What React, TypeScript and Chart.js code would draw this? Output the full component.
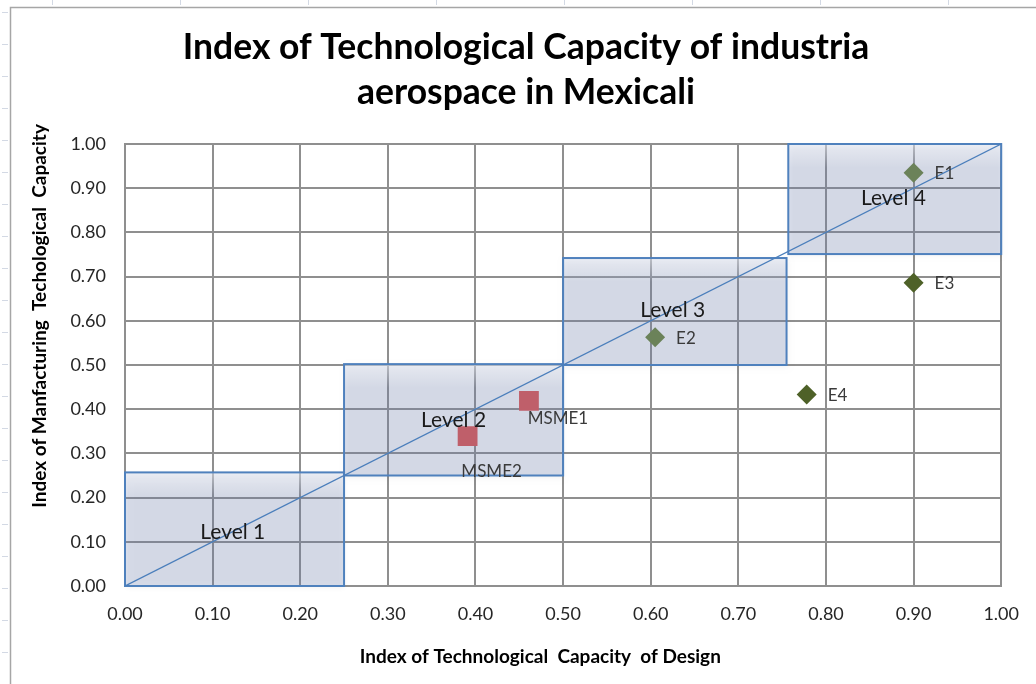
import { useEffect, useRef } from "react";
import { Chart, registerables } from "chart.js";

Chart.register(...registerables);

const FONT = "Lato, 'Open Sans', sans-serif";

const TITLE_LINES = ["Index of Technological Capacity of industria", "aerospace in Mexicali"];
const X_TITLE = "Index of Technological  Capacity  of Design";
const Y_TITLE = "Index of Manfacturing  Techological  Capacity";

const AXIS_MIN = 0;
const AXIS_MAX = 1;
const AXIS_STEP = 0.1;

const DIAG_X = [0, 1];
const DIAG_Y = [0, 1];

const LARGE_NAMES = ["E1", "E2", "E3", "E4"];
const LARGE_X = [0.9, 0.605, 0.9, 0.778];
const LARGE_Y = [0.935, 0.563, 0.686, 0.433];

const MSME_NAMES = ["MSME1", "MSME2"];
const MSME_X = [0.461, 0.391];
const MSME_Y = [0.419, 0.339];

const LEVEL_NAMES = ["Level 1", "Level 2", "Level 3", "Level 4"];
const LEVEL_X0 = [0, 0.25, 0.5, 0.757];
const LEVEL_X1 = [0.25, 0.5, 0.755, 1.0];
const LEVEL_Y0 = [0, 0.25, 0.5, 0.751];
const LEVEL_Y1 = [0.257, 0.502, 0.742, 1.0];
const LEVEL_LABEL_X = [0.123, 0.375, 0.625, 0.877];
const LEVEL_LABEL_Y = [0.122, 0.376, 0.624, 0.878];

// label offsets (pixels) for point labels
const LARGE_LABEL_OFFSET = [21, 1];
const MSME_LABEL_OFFSETS = [
  [29, 18],
  [24, 35],
];

const inLevel = (x: number, y: number) =>
  LEVEL_NAMES.some((_, i) => x >= LEVEL_X0[i] && x <= LEVEL_X1[i] && y >= LEVEL_Y0[i] && y <= LEVEL_Y1[i]);

const framePlugin = {
  id: "frame",
  beforeDraw(chart: any) {
    const { ctx, width, height } = chart;
    ctx.save();
    ctx.fillStyle = "#ffffff";
    ctx.fillRect(0, 0, width, height);
    ctx.strokeStyle = "#d3d9e4";
    ctx.lineWidth = 1;
    for (let y = 12; y < height; y += 32) {
      ctx.beginPath();
      ctx.moveTo(2, y + 0.5);
      ctx.lineTo(8, y + 0.5);
      ctx.stroke();
    }
    for (let x = 52; x < width; x += 128) {
      ctx.beginPath();
      ctx.moveTo(x + 0.5, 0);
      ctx.lineTo(x + 0.5, 5);
      ctx.stroke();
    }
    ctx.strokeStyle = "#a6a6a6";
    ctx.lineWidth = 1.5;
    ctx.strokeRect(10.5, 7.5, width + 20, height + 20);
    ctx.restore();
  },
};

const levelsPlugin = {
  id: "levels",
  beforeDatasetsDraw(chart: any) {
    const { ctx, scales } = chart;
    const xs = scales.x;
    const ys = scales.y;
    ctx.save();
    LEVEL_NAMES.forEach((_, i) => {
      const l = xs.getPixelForValue(LEVEL_X0[i]);
      const r = xs.getPixelForValue(LEVEL_X1[i]);
      const t = ys.getPixelForValue(LEVEL_Y1[i]);
      const b = ys.getPixelForValue(LEVEL_Y0[i]);
      ctx.save();
      ctx.shadowColor = "rgba(0,0,0,0.2)";
      ctx.shadowBlur = 5;
      ctx.shadowOffsetX = 1;
      ctx.shadowOffsetY = 2;
      ctx.fillStyle = "rgba(120,140,192,0.25)";
      ctx.fillRect(l, t, r - l, b - t);
      ctx.restore();
      const g = ctx.createLinearGradient(0, t, 0, t + 24);
      g.addColorStop(0, "rgba(255,255,255,0.45)");
      g.addColorStop(1, "rgba(255,255,255,0)");
      ctx.fillStyle = g;
      ctx.fillRect(l, t, r - l, 24);
      ctx.strokeStyle = "#4f81bd";
      ctx.lineWidth = 2;
      ctx.strokeRect(l, t, r - l, b - t);
    });
    ctx.restore();
  },
};

const labelsPlugin = {
  id: "labels",
  afterDatasetsDraw(chart: any) {
    const { ctx, scales, chartArea } = chart;
    const xs = scales.x;
    const ys = scales.y;
    ctx.save();
    ctx.font = `21px ${FONT}`;
    ctx.fillStyle = "#1a1a1a";
    ctx.textAlign = "center";
    ctx.textBaseline = "middle";
    LEVEL_NAMES.forEach((name, i) => {
      ctx.fillText(name, xs.getPixelForValue(LEVEL_LABEL_X[i]), ys.getPixelForValue(LEVEL_LABEL_Y[i]));
    });
    ctx.font = `17px ${FONT}`;
    ctx.fillStyle = "#3a3a3a";
    ctx.textAlign = "left";
    LARGE_NAMES.forEach((name, i) => {
      ctx.fillText(
        name,
        xs.getPixelForValue(LARGE_X[i]) + LARGE_LABEL_OFFSET[0],
        ys.getPixelForValue(LARGE_Y[i]) + LARGE_LABEL_OFFSET[1]
      );
    });
    ctx.textAlign = "center";
    MSME_NAMES.forEach((name, i) => {
      ctx.fillText(
        name,
        xs.getPixelForValue(MSME_X[i]) + MSME_LABEL_OFFSETS[i][0],
        ys.getPixelForValue(MSME_Y[i]) + MSME_LABEL_OFFSETS[i][1]
      );
    });
    ctx.font = `bold 19px ${FONT}`;
    ctx.fillStyle = "#000000";
    ctx.textAlign = "center";
    ctx.fillText(X_TITLE, chartArea.left + chartArea.width * 0.474, 657);
    ctx.save();
    ctx.translate(40, chartArea.top + chartArea.height * 0.389);
    ctx.rotate(-Math.PI / 2);
    ctx.fillText(Y_TITLE, 0, 0);
    ctx.restore();
    ctx.restore();
  },
};

export default function App() {
  const ref = useRef<HTMLCanvasElement>(null);

  useEffect(() => {
    const gridColor = "#8f8f8f";
    const tickFont = { family: FONT, size: 18 };
    const chart = new Chart(ref.current as HTMLCanvasElement, {
      type: "scatter",
      data: {
        datasets: [
          {
            label: "Diagonal",
            data: DIAG_X.map((x, i) => ({ x, y: DIAG_Y[i] })),
            showLine: true,
            borderColor: "#4a7ebb",
            borderWidth: 1.3,
            pointRadius: 0,
          },
          {
            label: "Large",
            data: LARGE_X.map((x, i) => ({ x, y: LARGE_Y[i] })),
            pointStyle: "rectRot",
            pointRadius: 10,
            pointBackgroundColor: (c: any) =>
              c.raw && inLevel(c.raw.x, c.raw.y) ? "#6b8259" : "#4e6128",
            pointBorderWidth: 0,
            borderColor: "transparent",
          },
          {
            label: "MSME",
            data: MSME_X.map((x, i) => ({ x, y: MSME_Y[i] })),
            pointStyle: "rect",
            pointRadius: 14,
            pointBackgroundColor: "#bf5f6a",
            pointBorderWidth: 0,
            borderColor: "transparent",
          },
        ],
      },
      options: {
        animation: false,
        responsive: true,
        maintainAspectRatio: false,
        layout: { padding: { left: 50, right: 34, top: 0, bottom: 0 } },
        plugins: {
          legend: { display: false },
          tooltip: { enabled: false },
          title: {
            display: true,
            text: TITLE_LINES,
            color: "#000000",
            font: { family: FONT, size: 35.5, weight: "bold", lineHeight: 45 / 35.5 },
            padding: { top: 25.5, bottom: 28.5 },
          },
        },
        scales: {
          x: {
            type: "linear",
            min: AXIS_MIN,
            max: AXIS_MAX,
            afterFit: (s: any) => {
              s.height = 98;
            },
            ticks: {
              stepSize: AXIS_STEP,
              padding: 17,
              color: "#262626",
              font: tickFont,
              callback: (v: any) => Number(v).toFixed(2),
            },
            grid: { color: gridColor, lineWidth: 2, drawTicks: false },
            border: { color: gridColor, width: 2 },
          },
          y: {
            type: "linear",
            min: AXIS_MIN,
            max: AXIS_MAX,
            afterFit: (s: any) => {
              s.width = 75;
            },
            ticks: {
              stepSize: AXIS_STEP,
              padding: 19,
              color: "#262626",
              font: tickFont,
              callback: (v: any) => Number(v).toFixed(2),
            },
            grid: { color: gridColor, lineWidth: 2, drawTicks: false },
            border: { color: gridColor, width: 2 },
          },
        },
      },
      plugins: [framePlugin, levelsPlugin, labelsPlugin],
    } as any);
    return () => chart.destroy();
  }, []);

  return (
    <div style={{ position: "fixed", left: 0, top: 0, width: 1036, height: 684, background: "#fff" }}>
      <canvas ref={ref} />
    </div>
  );
}
